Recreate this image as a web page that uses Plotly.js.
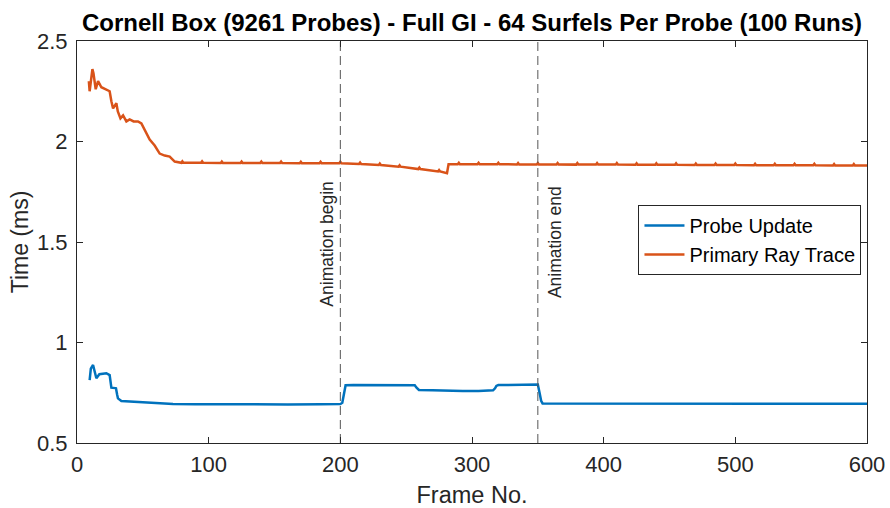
<!DOCTYPE html>
<html>
<head>
<meta charset="utf-8">
<script src="https://cdn.plot.ly/plotly-3.0.1.min.js"></script>
<style>html,body{margin:0;padding:0;background:#fff;}#chart{width:890px;height:508px;}</style>
</head>
<body>
<div id="chart"></div>
<script>
// Probe Update (blue)
const probeFrames = [9.6, 10.5, 12.2, 13.5, 14.7, 17, 19, 22.3, 24.8, 25.5, 26.1, 29, 29.6, 30.5, 31.1, 33.7, 40, 52.7, 62, 72.9, 90, 108, 130, 160, 185, 200, 201.5, 202.5, 203.3, 204, 210, 230, 250, 256.5, 257.9, 259.7, 270, 280, 293, 305, 316, 317.5, 318.5, 320, 335, 350, 351.3, 352.5, 353.6, 360, 400, 450, 500, 550, 600];
const probeTime   = [0.813, 0.87, 0.888, 0.86, 0.822, 0.842, 0.845, 0.847, 0.838, 0.81, 0.775, 0.773, 0.772, 0.74, 0.722, 0.709, 0.706, 0.702, 0.698, 0.694, 0.693, 0.692, 0.692, 0.692, 0.693, 0.694, 0.70, 0.74, 0.78, 0.787, 0.788, 0.788, 0.787, 0.787, 0.775, 0.764, 0.762, 0.760, 0.759, 0.759, 0.762, 0.772, 0.784, 0.788, 0.789, 0.791, 0.75, 0.71, 0.697, 0.697, 0.697, 0.696, 0.696, 0.696, 0.695];

// Primary Ray Trace (orange)
const rayFrames = [9, 9.6, 11.7, 12.5, 14.2, 16, 18.5, 22.3, 24.8, 26.1, 27.4, 29.9, 31, 33, 35, 37.5, 40, 43, 46.3, 48.9, 51.4, 55.2, 59, 62.8, 66.6, 70.4, 74.2, 77,
  79.2, 80, 80.8, 94.2, 95, 95.8, 109.2, 110, 110.8, 124.2, 125, 125.8, 139.2, 140, 140.8, 154.2, 155, 155.8, 169.2, 170, 170.8, 184.2, 185, 185.8, 199.2, 200, 200.8,
  214.2, 215, 215.8, 229.2, 230, 230.8, 244.2, 245, 245.8, 259.2, 260, 260.8, 274.2, 275, 275.8, 281, 282.2,
  289.2, 290, 290.8, 304.2, 305, 305.8, 319.2, 320, 320.8, 334.2, 335, 335.8, 349.2, 350, 350.8, 364.2, 365, 365.8, 379.2, 380, 380.8, 394.2, 395, 395.8,
  409.2, 410, 410.8, 424.2, 425, 425.8, 439.2, 440, 440.8, 454.2, 455, 455.8, 469.2, 470, 470.8, 484.2, 485, 485.8, 499.2, 500, 500.8,
  514.2, 515, 515.8, 529.2, 530, 530.8, 544.2, 545, 545.8, 559.2, 560, 560.8, 574.2, 575, 575.8, 589.2, 590, 590.8, 600];
const rayTime = [2.30, 2.25, 2.36, 2.34, 2.26, 2.30, 2.27, 2.26, 2.25, 2.20, 2.165, 2.19, 2.15, 2.115, 2.13, 2.10, 2.11, 2.10, 2.10, 2.09, 2.06, 2.01, 1.98, 1.94, 1.93, 1.925, 1.90, 1.895,
  1.894, 1.901, 1.894, 1.894, 1.901, 1.894, 1.893, 1.900, 1.893, 1.893, 1.900, 1.893, 1.893, 1.900, 1.893, 1.893, 1.900, 1.893, 1.892, 1.899, 1.892, 1.892, 1.899, 1.892, 1.892, 1.899, 1.892,
  1.888, 1.895, 1.888, 1.883, 1.890, 1.883, 1.875, 1.882, 1.875, 1.863, 1.870, 1.863, 1.851, 1.858, 1.851, 1.842, 1.887,
  1.887, 1.894, 1.887, 1.887, 1.894, 1.887, 1.887, 1.894, 1.887, 1.886, 1.893, 1.886, 1.886, 1.893, 1.886, 1.886, 1.893, 1.886, 1.885, 1.892, 1.885, 1.885, 1.892, 1.885,
  1.885, 1.892, 1.885, 1.884, 1.891, 1.884, 1.884, 1.891, 1.884, 1.884, 1.891, 1.884, 1.883, 1.890, 1.883, 1.883, 1.890, 1.883, 1.883, 1.890, 1.883,
  1.882, 1.889, 1.882, 1.882, 1.889, 1.882, 1.882, 1.889, 1.882, 1.882, 1.889, 1.882, 1.881, 1.888, 1.881, 1.881, 1.888, 1.881, 1.881];

// Animation markers
const animFrames = [200, 350];
const animLabels = ['Animation begin', 'Animation end'];
const animLabelY = [1.17, 1.21];

const xTicks = [0, 100, 200, 300, 400, 500, 600];
const yTicks = [0.5, 1, 1.5, 2, 2.5];
const yTickText = ['0.5', '1', '1.5', '2', '2.5'];

const FONT = '"Liberation Sans", Arial, Helvetica, sans-serif';
const AX = '#262626';

const traces = [
  {x: probeFrames, y: probeTime, mode: 'lines', name: 'Probe Update', line: {color: '#0072BD', width: 2.5}},
  {x: rayFrames, y: rayTime, mode: 'lines', name: 'Primary Ray Trace', line: {color: '#D95319', width: 2.5}}
];
animFrames.forEach(f => {
  traces.push({x: [f, f], y: [yTicks[0], yTicks[yTicks.length - 1]], mode: 'lines', showlegend: false, hoverinfo: 'skip',
    line: {color: '#555555', width: 1, dash: '9px,5px'}});
});

const annotations = animFrames.map((f, i) => ({
  x: f, y: animLabelY[i], xref: 'x', yref: 'y', text: animLabels[i], showarrow: false, textangle: -90,
  xanchor: 'center', yanchor: 'bottom', xshift: i === 0 ? -13 : 17,
  font: {family: FONT, size: 17.5, color: AX}
}));

const axisCommon = {
  showline: true, linecolor: AX, linewidth: 1, mirror: 'ticks', ticks: 'inside', ticklen: 6, tickcolor: AX,
  showgrid: false, zeroline: false, tickfont: {family: FONT, size: 22, color: AX}
};

const layout = {
  width: 890, height: 508,
  margin: {l: 77, r: 23, t: 41, b: 65},
  paper_bgcolor: '#fff', plot_bgcolor: '#fff',
  title: {text: '<b>Cornell Box (9261 Probes) - Full GI - 64 Surfels Per Probe (100 Runs)</b>', x: 0.5, xref: 'paper', xanchor: 'center', y: 0.955, yref: 'container', yanchor: 'middle',
    font: {family: FONT, size: 24, color: '#000'}},
  xaxis: Object.assign({}, axisCommon, {range: [0, 600], tickvals: xTicks, ticktext: xTicks.map(String), ticklabelstandoff: 2,
    title: {text: 'Frame No.', font: {family: FONT, size: 23.5, color: AX}, standoff: 12}}),
  yaxis: Object.assign({}, axisCommon, {range: [0.5, 2.5], tickvals: yTicks, ticktext: yTickText, ticklabelstandoff: 4,
    title: {text: 'Time (ms)', font: {family: FONT, size: 23, color: AX}, standoff: 1}}),
  legend: {x: 0.993, xanchor: 'right', y: 0.592, yanchor: 'top', bgcolor: '#fff', bordercolor: AX, borderwidth: 1,
    font: {family: FONT, size: 20, color: '#000'}, tracegroupgap: 0, itemwidth: 40},
  annotations: annotations,
  showlegend: true
};

Plotly.newPlot('chart', traces, layout, {displayModeBar: false, staticPlot: true});
</script>
</body>
</html>
